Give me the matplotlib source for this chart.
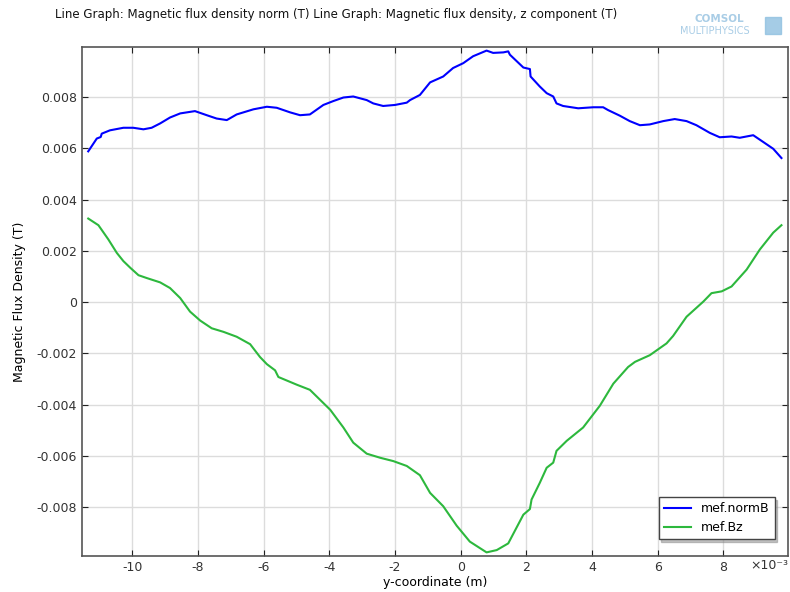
#!/usr/bin/env python3
"""
Line graph: magnetic flux density along y.
"""

import numpy as np
import matplotlib.pyplot as plt

# y-coordinate in units of 1e-3 m
y_norm = [-11.34, -11.08, -10.96, -10.93, -10.68, -10.27, -9.97, -9.66, -9.41, -9.15,
          -8.85, -8.54, -8.09, -7.73, -7.43, -7.12, -6.82, -6.31, -5.90, -5.60,
          -5.19, -4.89, -4.59, -4.18, -3.88, -3.57, -3.27, -2.86, -2.66, -2.36,
          -2.00, -1.64, -1.54, -1.24, -0.93, -0.53, -0.23, 0.08, 0.38, 0.79,
          0.99, 1.30, 1.45, 1.50, 1.91, 2.11, 2.13, 2.41, 2.62, 2.82,
          2.92, 3.12, 3.58, 4.04, 4.34, 4.49, 4.85, 5.15, 5.46, 5.76,
          6.17, 6.52, 6.88, 7.18, 7.59, 7.89, 8.25, 8.50, 8.91, 9.21,
          9.52, 9.77]
norm_b = [5.88, 6.38, 6.44, 6.57, 6.70, 6.80, 6.80, 6.74, 6.80, 6.97,
          7.20, 7.36, 7.45, 7.29, 7.16, 7.10, 7.32, 7.52, 7.62, 7.58,
          7.40, 7.29, 7.32, 7.69, 7.84, 7.98, 8.02, 7.88, 7.75, 7.65,
          7.69, 7.78, 7.88, 8.08, 8.57, 8.80, 9.13, 9.32, 9.59, 9.81,
          9.72, 9.74, 9.78, 9.65, 9.15, 9.09, 8.80, 8.41, 8.15, 8.02,
          7.75, 7.65, 7.56, 7.60, 7.60, 7.49, 7.27, 7.06, 6.90, 6.93,
          7.06, 7.14, 7.06, 6.90, 6.60, 6.43, 6.46, 6.41, 6.51, 6.25,
          5.98, 5.62]

y_bz = [-11.34, -11.03, -10.73, -10.47, -10.27, -10.06, -9.81, -9.56, -9.15, -8.85,
        -8.54, -8.24, -7.93, -7.58, -7.22, -6.82, -6.41, -6.11, -5.90, -5.65,
        -5.55, -4.99, -4.59, -4.28, -3.97, -3.57, -3.27, -2.86, -2.45, -2.05,
        -1.64, -1.24, -0.93, -0.53, -0.12, 0.28, 0.79, 1.10, 1.45, 1.91,
        2.11, 2.16, 2.41, 2.62, 2.82, 2.92, 3.23, 3.73, 4.24, 4.65,
        5.10, 5.31, 5.76, 6.27, 6.47, 6.88, 7.39, 7.64, 7.95, 8.25,
        8.71, 9.11, 9.52, 9.77]
bz = [3.26, 3.00, 2.45, 1.92, 1.60, 1.34, 1.05, 0.94, 0.77, 0.55,
      0.16, -0.37, -0.72, -1.02, -1.16, -1.35, -1.64, -2.14, -2.42, -2.66,
      -2.92, -3.22, -3.42, -3.81, -4.20, -4.89, -5.48, -5.91, -6.07, -6.20,
      -6.39, -6.75, -7.44, -7.96, -8.72, -9.34, -9.76, -9.67, -9.41, -8.29,
      -8.07, -7.70, -7.05, -6.46, -6.26, -5.80, -5.41, -4.89, -4.04, -3.18,
      -2.53, -2.33, -2.07, -1.61, -1.32, -0.57, 0.02, 0.35, 0.42, 0.61,
      1.27, 2.05, 2.71, 3.00]

x_ticks = [-10, -8, -6, -4, -2, 0, 2, 4, 6, 8]
y_ticks = [-0.008, -0.006, -0.004, -0.002, 0, 0.002, 0.004, 0.006, 0.008]
y_tick_labels = ['-0.008', '-0.006', '-0.004', '-0.002', '0',
                 '0.002', '0.004', '0.006', '0.008']


def main():
    plt.rcParams['font.family'] = 'DejaVu Sans'
    plt.rcParams['axes.unicode_minus'] = False
    fig = plt.figure(figsize=(7.9, 5.92), dpi=100)
    ax = fig.add_axes([0.1038, 0.0613, 0.8937, 0.8593])

    ax.plot(y_norm, np.array(norm_b) * 1e-3, color='#0000ff', lw=1.5, label='mef.normB')
    ax.plot(y_bz, np.array(bz) * 1e-3, color='#2db83d', lw=1.5, label='mef.Bz')

    ax.set_xlim(-11.53, 9.97)
    ax.set_ylim(-0.00989, 0.00995)
    ax.set_xticks(x_ticks)
    ax.set_yticks(y_ticks)
    ax.set_yticklabels(y_tick_labels)
    ax.grid(True, color='#dcdcdc', lw=1)
    ax.set_axisbelow(True)
    ax.tick_params(direction='in', top=True, right=True, length=4,
                   labelsize=9, colors='#222222', labelcolor='#333333')
    for s in ax.spines.values():
        s.set_color('#555555')
        s.set_linewidth(1.2)

    # exponent of the x axis, at the last tick position
    fig.text(0.998, 0.044, '\u00d710\u207b\u00b3', ha='right', va='center',
             fontsize=9, color='#333333')

    ax.set_xlabel('y-coordinate (m)', fontsize=9, labelpad=2)
    ax.set_ylabel('Magnetic Flux Density (T)', fontsize=9, labelpad=8)

    fig.text(0.07, 0.975, 'Line Graph: Magnetic flux density norm (T) '
             'Line Graph: Magnetic flux density, z component (T)',
             fontsize=8.5, va='center', ha='left', color='#111111')
    fig.text(0.91, 0.968, 'COMSOL', fontsize=7.5, color='#a9cde6',
             ha='center', va='center', fontweight='bold')
    fig.text(0.905, 0.948, 'MULTIPHYSICS', fontsize=7, color='#a9cde6',
             ha='center', va='center')
    fig.patches.append(plt.Rectangle((0.968, 0.942), 0.02, 0.03,
                                     transform=fig.transFigure,
                                     color='#8fc0e0', alpha=0.8))

    leg = ax.legend(loc='lower right', fontsize=9, fancybox=False,
                    shadow={'ox': 2, 'oy': -2, 'color': '#888888'},
                    framealpha=1, edgecolor='#444444',
                    handlelength=2.2, bbox_to_anchor=(0.99, 0.02))
    leg.get_frame().set_linewidth(1)

    plt.savefig('out.png')


if __name__ == '__main__':
    main()
